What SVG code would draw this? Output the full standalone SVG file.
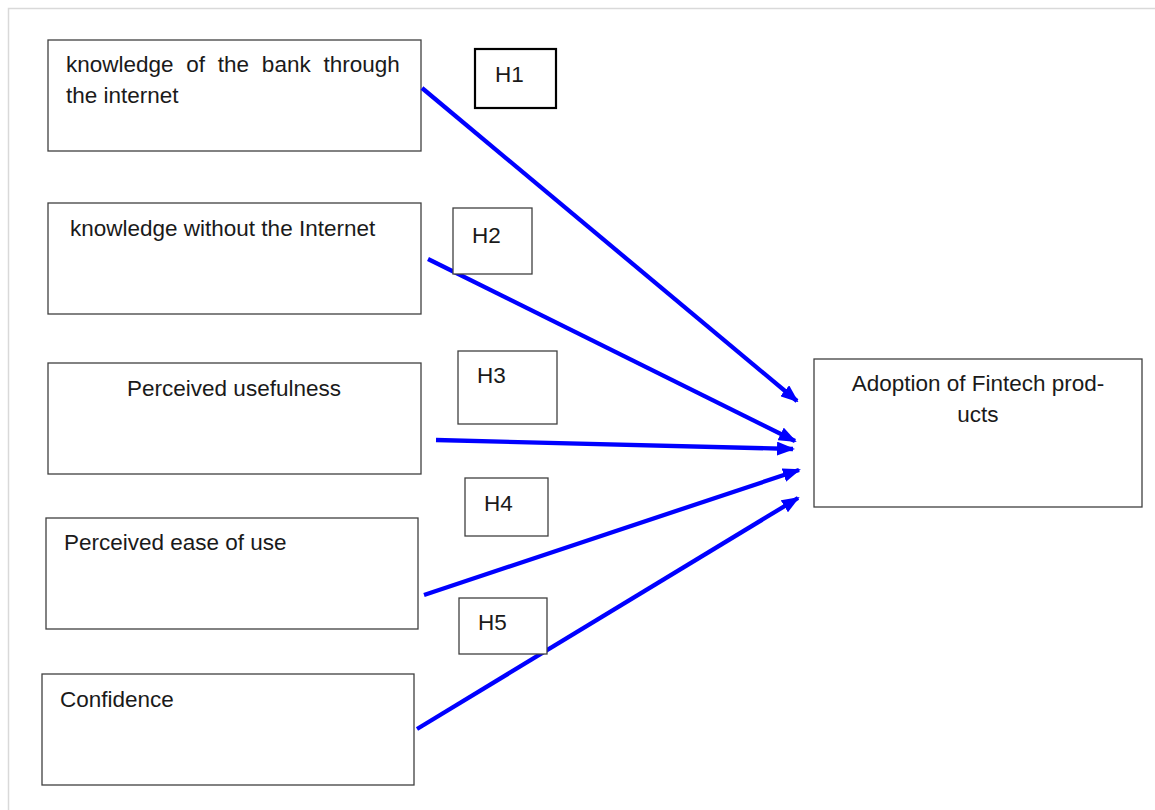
<svg xmlns="http://www.w3.org/2000/svg" width="1155" height="810" viewBox="0 0 1155 810">
<style>
.box{fill:#fff;stroke:#404040;stroke-width:1.3}
.hbox{fill:#fff;stroke:#404040;stroke-width:1.3}
.t{font-family:"Liberation Sans",Arial,sans-serif;font-size:22.5px;fill:#1a1a1a}
.arr{stroke:#0000ff;stroke-width:4.3;fill:none;marker-end:url(#ah)}
</style>
<defs>
<marker id="ah" markerUnits="userSpaceOnUse" markerWidth="18" markerHeight="14" refX="16" refY="7" orient="auto">
<path d="M0,0 L18,7 L0,14 z" fill="#0000ff"/>
</marker>
</defs>
<rect x="0" y="0" width="1155" height="810" fill="#fff"/>
<path d="M8.5,810 V8.5 H1155" fill="none" stroke="#d9d9d9" stroke-width="1.5"/>
<g id="n1"><rect class="box" x="48" y="40" width="373" height="111"/>
<text class="t" x="66" y="72" word-spacing="6.5">knowledge of the bank through</text>
<text class="t" x="66" y="103">the internet</text></g>
<g id="n2"><rect class="box" x="48" y="203" width="373" height="111"/>
<text class="t" x="70" y="236">knowledge without the Internet</text></g>
<g id="n3"><rect class="box" x="48" y="363" width="373" height="111"/>
<text class="t" x="234" y="396" text-anchor="middle">Perceived usefulness</text></g>
<g id="n4"><rect class="box" x="46" y="518" width="372" height="111"/>
<text class="t" x="64" y="550">Perceived ease of use</text></g>
<g id="n5"><rect class="box" x="42" y="674" width="372" height="111"/>
<text class="t" x="60" y="707">Confidence</text></g>
<g id="target"><rect class="box" x="814" y="359" width="328" height="148"/>
<text class="t" x="978" y="391" text-anchor="middle">Adoption of Fintech prod-</text>
<text class="t" x="978" y="422" text-anchor="middle">ucts</text></g>
<g id="connectors">
<path class="arr" d="M422,88 L797,401"/>
<path class="arr" d="M428,259 L795,441"/>
<path class="arr" d="M436,440 L793,449"/>
<path class="arr" d="M424,595 L799,470"/>
<path class="arr" d="M417,729 L798,498"/>
</g>
<g id="h1"><rect x="475" y="49" width="81" height="59" fill="#fff" stroke="#000" stroke-width="2.2"/>
<text class="t" x="495" y="82">H1</text></g>
<g id="h2"><rect class="hbox" x="453" y="208" width="79" height="66"/>
<text class="t" x="472" y="243">H2</text></g>
<g id="h3"><rect class="hbox" x="458" y="351" width="99" height="73"/>
<text class="t" x="477" y="383">H3</text></g>
<g id="h4"><rect class="hbox" x="465" y="478" width="83" height="58"/>
<text class="t" x="484" y="511">H4</text></g>
<g id="h5"><rect class="hbox" x="459" y="598" width="88" height="56"/>
<text class="t" x="478" y="630">H5</text></g>
</svg>
